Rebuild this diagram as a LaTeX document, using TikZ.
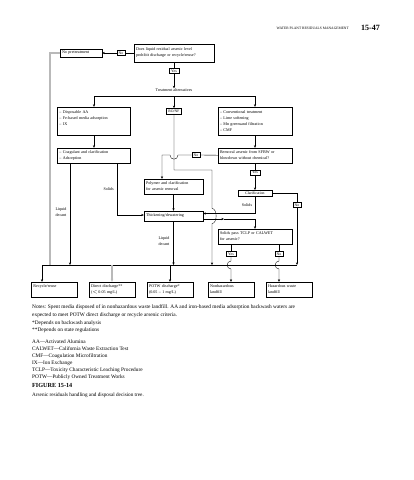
\documentclass[tikz,border=0pt]{standalone}
\usepackage{fontspec}
\setmainfont{Liberation Serif}
\usepackage{tikz}
\usetikzlibrary{positioning, arrows.meta}
\newcommand{\bxfont}{\fontsize{4.1}{6}\selectfont}
\newcommand{\tgfont}{\fontsize{3.8}{4.5}\selectfont}
\newcommand{\ntfont}{\fontsize{5.35}{7.6}\selectfont}
\newcommand{\abfont}{\fontsize{5.3}{7}\selectfont}

\begin{document}
\begin{tikzpicture}[x=1pt, y=-1pt,
  box/.style={draw, line width=0.35pt, inner xsep=2pt, inner ysep=0pt, align=left, font=\bxfont},
  tag/.style={draw, line width=0.35pt, inner xsep=2pt, inner ysep=1.4pt, font=\tgfont},
  endbox/.style={box, text width=42pt, minimum height=15pt},
  lbl/.style={inner sep=0pt, align=center, font=\bxfont},
  flow/.style={line width=0.35pt, -{Stealth[length=2.6pt, width=2.2pt]}},
  link/.style={line width=0.35pt},
  heavy/.style={line width=1.3pt, gray!55}]
\useasboundingbox (0,0) rectangle (413,480);
\node [font=\fontsize{3.6}{4}\selectfont, anchor=east, inner sep=0pt] (hdr) at (349,28) {WATER PLANT RESIDUALS MANAGEMENT};
\node [font=\fontsize{8}{9}\selectfont\bfseries, anchor=west, inner sep=0pt] (pg) at (361,28) {15-47};
\node [box, text width=76pt, minimum height=18pt] (q1) at (174,53) {Does liquid residual arsenic level\\ prohibit discharge or recycle/reuse?};
\node [tag] (noA) at (121,53) {No};
\node [box, text width=38pt, minimum height=8pt] (nopre) at (81,53) {No pretreatment};
\node [tag] (yesA) at (174,71) {Yes};
\node [lbl] (talt) at (174,90) {Treatment alternatives};
\coordinate (split) at (174,96);
\coordinate (sl) at (94,96);
\coordinate (sr) at (255,96);
\node [box, text width=69pt, minimum height=28pt] (opt1) at (94,121) {-- Disposable AA\\ -- Fe-based media adsorption\\ -- IX\\ \mbox{}};
\node [tag] (ronf) at (174,111) {RO/NF};
\node [box, text width=70pt, minimum height=28pt] (opt3) at (255,121) {-- Conventional treatment\\ -- Lime softening\\ -- Mn greensand filtration\\ -- CMF};
\node [box, text width=69pt, minimum height=15pt] (coag) at (94,155.5) {-- Coagulant and clarification\\ -- Adsorption};
\node [box, text width=70pt, minimum height=15pt] (rem) at (255,155.5) {Removal arsenic from SFBW or\\ blowdown without chemical?};
\node [tag] (noB) at (196,155) {No};
\node [box, text width=55pt, minimum height=15pt] (poly) at (173.5,186.5) {Polymer and clarification\\ for arsenic removal};
\node [tag] (yesB) at (255,172.5) {Yes};
\node [tag, minimum width=34pt] (clar) at (255,193) {Clarification};
\node [box, text width=55pt, minimum height=10pt] (thick) at (173.5,216) {Thickening/dewatering};
\node [tag] (noC) at (297,205) {No};
\node [box, text width=70pt, minimum height=15pt] (tclp) at (255,236.5) {Solids pass TCLP or CALWET\\ for arsenic?};
\node [tag] (yesC) at (231,254) {Yes};
\node [tag] (noD) at (279,254) {No};
\node [endbox] (recyc) at (54.5,289.5) {Recycle/reuse\\ \mbox{}};
\node [endbox] (direct) at (112,289.5) {Direct discharge**\\ (${<}$\,0.05 mg/L)};
\node [endbox] (potw) at (170,289.5) {POTW discharge*\\ (0.05 -- 1 mg/L)};
\node [endbox] (nonhaz) at (231,289.5) {Nonhazardous\\ landfill};
\node [endbox] (haz) at (289,289.5) {Hazardous waste\\ landfill};
\node [lbl, anchor=east] (solA) at (114,189) {Solids};
\node [lbl] (decA) at (61,212) {Liquid\\ decant};
\node [lbl] (decB) at (164,241) {Liquid\\ decant};
\node [lbl] (solB) at (247,205) {Solids};
\coordinate (busL) at (42,265);
\coordinate (busR) at (297,265);
\coordinate (nbend) at (162,155);
\coordinate (rcorner) at (212,170);
\coordinate (cs) at (255,213.5);
\coordinate (ts) at (255,219);
\coordinate (tmid) at (224,219);
\coordinate (cr) at (297,193);
\coordinate (dl) at (70,265);
\coordinate (sbend) at (117,215);
\coordinate (dm) at (173.5,265);
\coordinate (dr) at (212,265);
\coordinate (bd) at (112,265);
\coordinate (bp) at (170,265);
\coordinate (pre) at (50,53);
\draw [link] (q1) -- (noA);
\draw [flow] (noA) -- (nopre);
\draw [heavy] (nopre.west) -- (pre) -- (pre |- busL);
\draw [link] (busL) -- (busR);
\draw [link] (q1) -- (yesA);
\draw [flow] (yesA) -- (talt);
\draw [link] (sl) -- (sr);
\draw [flow] (sl) -- (opt1);
\draw [flow] (split) -- (ronf);
\draw [flow] (sr) -- (opt3);
\draw [flow] (opt1) -- (coag);
\draw [flow] (opt3) -- (rem);
\draw [link] (rem) -- (noB);
\draw [flow] (noB) -- (178,155) .. controls (178,160.5) and (170,160.5) .. (170,155) -- (nbend) -- (nbend |- poly.north);
\draw [flow] (ronf) -- (ronf |- rcorner) -- (rcorner) -- (212,208.5) .. controls (217.5,208.5) and (217.5,223.5) .. (212,223.5) -- (dr);
\draw [link] (rem) -- (yesB);
\draw [flow] (yesB) -- (clar);
\draw [flow] (clar) -- (cs) -- (cs -| thick.east);
\draw [flow] (thick.east |- ts) -- (tmid);
\draw [flow] (tmid) -- (ts) -- (tclp);
\draw [link] (clar) -- (cr) -- (noC);
\draw [flow] (noC) -- (busR);
\draw [flow] (coag.south -| dl) -- (dl);
\draw [flow] (coag.south -| sbend) -- (sbend) -- (sbend -| thick.west);
\draw [flow] (poly) -- (thick);
\draw [flow] (thick) -- (dm);
\draw [link] (tclp.south -| yesC) -- (yesC);
\draw [link] (tclp.south -| noD) -- (noD);
\draw [flow] (yesC) -- (231,261) .. controls (226,261) and (226,269) .. (231,269) -- (nonhaz);
\draw [flow] (noD) -- (279,261) .. controls (274,261) and (274,269) .. (279,269) -- (haz.north -| noD);
\draw [flow] (busL) -- (busL |- recyc.north);
\draw [heavy, -{Stealth[length=3pt, width=2.6pt]}] (bd) -- (bd |- direct.north);
\draw [flow] (bp) -- (bp |- potw.north);
\node [anchor=north west, inner sep=0pt, align=left, font=\ntfont] (notes) at (32,305) {Notes: Spent media disposed of in nonhazardous waste landfill. AA and iron-based media adsorption backwash waters are\\ expected to meet POTW direct discharge or recycle arsenic criteria.\\ *Depends on backwash analysis\\ **Depends on state regulations};
\node [anchor=north west, inner sep=0pt, align=left, font=\abfont] (abbr) at (32,340) {AA---Activated Alumina\\ CALWET---California Waste Extraction Test\\ CMF---Coagulation Microfiltration\\ IX---Ion Exchange\\ TCLP---Toxicity Characteristic Leaching Procedure\\ POTW---Publicly Owned Treatment Works};
\node [anchor=north west, inner sep=0pt, font=\fontsize{6.2}{7}\selectfont\bfseries] (fig) at (32,383.5) {FIGURE 15-14};
\node [anchor=north west, inner sep=0pt, font=\fontsize{5.2}{6}\selectfont] (cap) at (32,393) {Arsenic residuals handling and disposal decision tree.};
\end{tikzpicture}
\end{document}
